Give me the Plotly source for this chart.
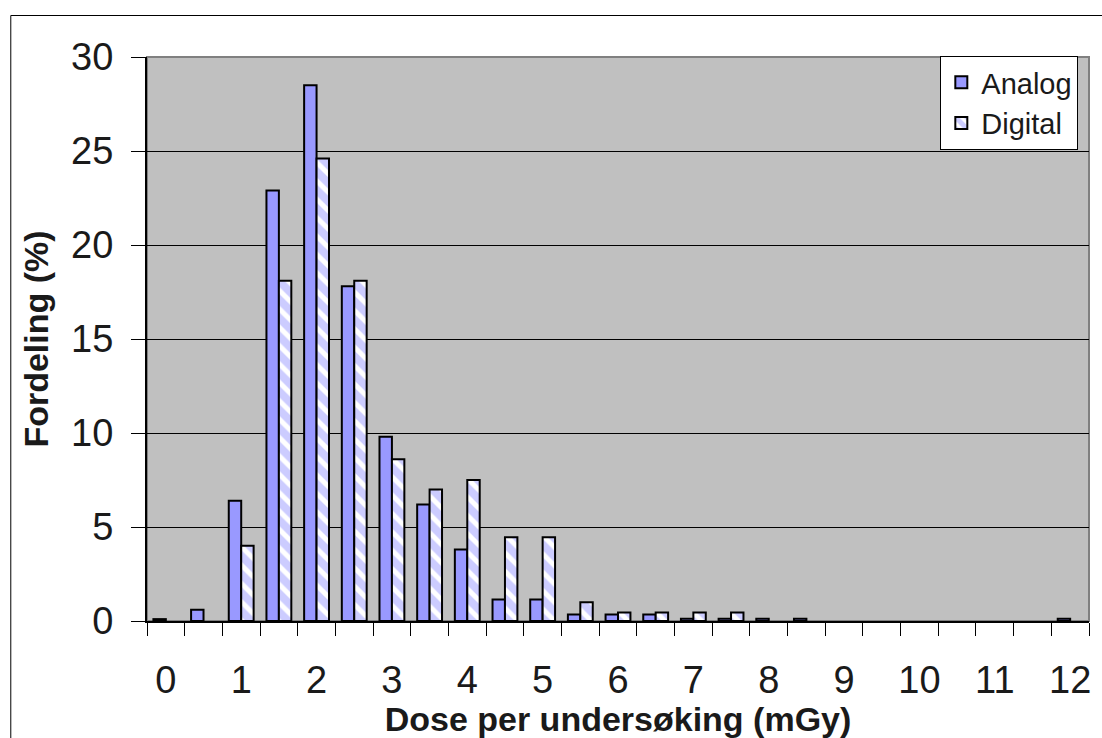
import plotly.graph_objects as go

# Dose bins (mGy) and share of examinations (%) per bin; None = empty bin
doses = [0, 0.5, 1, 1.5, 2, 2.5, 3, 3.5, 4, 4.5, 5, 5.5, 6, 6.5, 7, 7.5,
         8, 8.5, 9, 9.5, 10, 10.5, 11, 11.5, 12]
analog = [0.1, 0.6, 6.4, 22.9, 28.5, 17.8, 9.8, 6.2, 3.8, 1.15, 1.15, 0.35,
          0.35, 0.35, 0.12, 0.12, 0.12, 0.12, None, None, None, None, None,
          None, 0.12]
digital = [None, None, 4.0, 18.1, 24.6, 18.1, 8.6, 7.0, 7.5, 4.45, 4.45, 1.0,
           0.45, 0.45, 0.45, 0.45, None, None, None, None, None, None, None,
           None, None]
tick_values = [0, 1, 2, 3, 4, 5, 6, 7, 8, 9, 10, 11, 12]
bin_edges = [d - 0.25 for d in doses] + [doses[-1] + 0.25]

FONT = "Liberation Sans, Arial, sans-serif"
BAR_BLUE = "#9999FF"

fig = go.Figure()
fig.add_trace(go.Bar(
    x=doses, y=analog, name="Analog", legendgroup="a",
    marker=dict(color=BAR_BLUE, line=dict(color="black", width=2)),
))
fig.add_trace(go.Bar(
    x=doses, y=digital, name="Digital", legendgroup="d",
    marker=dict(
        color="white",
        line=dict(color="black", width=2),
        pattern=dict(shape="\\", fgcolor=BAR_BLUE, bgcolor="white",
                     size=13, solidity=0.62, fillmode="overlay"),
    ),
))

W, H = 1102, 738
L, R, T, B = 147, 11, 57, 117
pw, ph = W - L - R, H - T - B

def px_x(x):
    return (x - L) / pw

def px_y(y):
    return (H - B - y) / ph

fig.update_layout(
    width=W, height=H,
    margin=dict(l=L, r=R, t=T, b=B),
    paper_bgcolor="white",
    plot_bgcolor="#C0C0C0",
    barmode="group",
    bargap=0.34,
    bargroupgap=0,
    font=dict(family=FONT, color="#1a1a1a"),
    showlegend=True,
    legend=dict(
        x=px_x(942), y=px_y(56), xanchor="left", yanchor="top",
        bgcolor="white", bordercolor="black", borderwidth=1,
        font=dict(family=FONT, size=29, color="#1a1a1a"),
        tracegroupgap=6, traceorder="normal",
    ),
    shapes=[
        # frame around the plot area
        dict(type="rect", xref="paper", yref="paper", x0=0, x1=1, y0=0, y1=1,
             line=dict(color="#808080", width=2), layer="below"),
        # outer chart border
        dict(type="rect", xref="paper", yref="paper",
             x0=px_x(10.5), x1=px_x(1110), y0=px_y(745), y1=px_y(15.5),
             line=dict(color="black", width=1), layer="above"),
    ],
)

fig.update_xaxes(
    range=[-0.25, 12.25],
    tickmode="array", tickvals=tick_values,
    ticktext=[str(v) for v in tick_values],
    ticks="", showgrid=False, zeroline=False,
    showline=True, linecolor="black", linewidth=2,
    tickfont=dict(family=FONT, size=38, color="#1a1a1a"),
    ticklabelstandoff=24,
    minor=dict(tickmode="array", tickvals=bin_edges, ticks="outside",
               ticklen=13, tickwidth=1, tickcolor="black", showgrid=False),
    title=dict(text="<b>Dose per undersøking (mGy)</b>", standoff=0,
               font=dict(family=FONT, size=34, color="#1a1a1a")),
)
fig.update_yaxes(
    range=[0, 30], tickmode="linear", tick0=0, dtick=5,
    ticks="outside", ticklen=14, tickwidth=1, tickcolor="black",
    showgrid=True, gridcolor="black", gridwidth=1,
    zeroline=False,
    showline=True, linecolor="black", linewidth=2,
    tickfont=dict(family=FONT, size=38, color="#1a1a1a"),
    ticklabelstandoff=10,
    title=dict(text="<b>Fordeling (%)</b>", standoff=12,
               font=dict(family=FONT, size=34, color="#1a1a1a")),
)

fig.write_html("out.html")
